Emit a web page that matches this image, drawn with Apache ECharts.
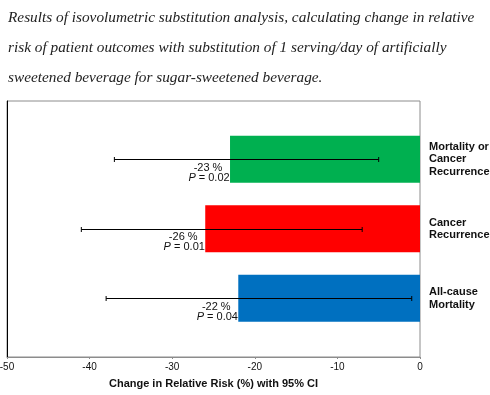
<!DOCTYPE html>
<html><head><meta charset="utf-8">
<script src="https://cdn.jsdelivr.net/npm/echarts@6/dist/echarts.min.js"></script>
<style>html,body{margin:0;padding:0;background:#fff}#c{width:490px;height:395px}</style>
</head><body><div id="c"></div>
<script>
var titleLines = [
  'Results of isovolumetric substitution analysis, calculating change in relative',
  'risk of patient outcomes with substitution of 1 serving/day of artificially',
  'sweetened beverage for sugar-sweetened beverage.'
];
var categories = ['Mortality or\nCancer\nRecurrence', 'Cancer\nRecurrence', 'All-cause\nMortality'];
var values = [-23, -26, -22];
var ciLow = [-37, -41, -38];
var ciHigh = [-5, -7, -1];
var pValues = ['0.02', '0.01', '0.04'];
var barColors = ['#00B050', '#FF0000', '#0070C0'];
var xTicks = [-50, -40, -30, -20, -10, 0];
var xName = 'Change in Relative Risk (%) with 95% CI';

var FONT = "'Liberation Sans', Arial, sans-serif";
var chart = echarts.init(document.getElementById('c'));

var errData = values.map(function (v, i) { return [i, v, ciLow[i], ciHigh[i]]; });

chart.setOption({
  animation: false,
  title: titleLines.map(function (t, i) {
    return {
      text: t, left: 8, top: 10 + i * 30, padding: 0,
      textStyle: { fontFamily: "'Liberation Serif', serif", fontStyle: 'italic', fontWeight: 'normal', fontSize: 15.3, color: '#222' }
    };
  }),
  grid: [
    { left: 7, right: 70, top: 101, bottom: 38, show: true, borderColor: '#8c8c8c', borderWidth: 1, outerBoundsMode: 'none', containLabel: false },
    { left: 7, right: 70, top: 124.5, bottom: 62, outerBoundsMode: 'none', containLabel: false }
  ],
  xAxis: [
    { gridIndex: 0, type: 'value', min: -50, max: 0, interval: 10,
      axisLine: { show: true, onZero: false, lineStyle: { color: '#8c8c8c' } },
      axisTick: { show: true, length: 2, lineStyle: { color: '#8c8c8c' } },
      splitLine: { show: false },
      axisLabel: { fontFamily: FONT, fontSize: 10, color: '#111', margin: 5 },
      name: xName, nameLocation: 'middle', nameGap: 21,
      nameTextStyle: { fontFamily: FONT, fontSize: 11, fontWeight: 'bold', color: '#111' } },
    { gridIndex: 1, type: 'value', min: -50, max: 0, show: false }
  ],
  yAxis: [
    { gridIndex: 0, type: 'value', min: 0, max: 1, position: 'left',
      axisLine: { show: true, onZero: false, lineStyle: { color: '#000' } },
      axisTick: { show: false }, axisLabel: { show: false }, splitLine: { show: false } },
    { gridIndex: 1, type: 'category', data: categories, inverse: true, position: 'right',
      axisLine: { show: false, onZero: false }, axisTick: { show: false },
      axisLabel: { fontFamily: FONT, fontSize: 11, fontWeight: 'bold', color: '#111', margin: 9, align: 'left', lineHeight: 12.5 } }
  ],
  series: [
    { type: 'bar', xAxisIndex: 1, yAxisIndex: 1, barWidth: 47,
      data: values.map(function (v, i) { return { value: v, itemStyle: { color: barColors[i] } }; }) },
    { type: 'custom', xAxisIndex: 1, yAxisIndex: 1, z: 5,
      data: errData,
      renderItem: function (params, api) {
        var i = api.value(0);
        var lo = api.coord([api.value(2), i]);
        var hi = api.coord([api.value(3), i]);
        var end = api.coord([api.value(1), i]);
        var y = Math.round(lo[1]) + 0.5;
        var st = { stroke: '#000', lineWidth: 1 };
        return { type: 'group', children: [
          { type: 'line', shape: { x1: lo[0], y1: y, x2: hi[0], y2: y }, style: st },
          { type: 'line', shape: { x1: lo[0], y1: y - 2.5, x2: lo[0], y2: y + 2.5 }, style: st },
          { type: 'line', shape: { x1: hi[0], y1: y - 2.5, x2: hi[0], y2: y + 2.5 }, style: st },
          { type: 'text', style: { text: api.value(1) + ' %', x: end[0] - 22, y: end[1] + 8.5,
              textAlign: 'center', textVerticalAlign: 'middle', font: '11px ' + FONT, fill: '#111' } },
          { type: 'text', style: { rich: { i: { fontStyle: 'italic', fontFamily: FONT, fontSize: 11, fill: '#111' }, n: { fontFamily: FONT, fontSize: 11, fill: '#111' } },
              text: '{i|P}{n| = ' + pValues[i] + '}', x: end[0] - 21, y: end[1] + 18.5,
              textAlign: 'center', textVerticalAlign: 'middle' } }
        ] };
      }
    }
  ]
});
</script></body></html>
